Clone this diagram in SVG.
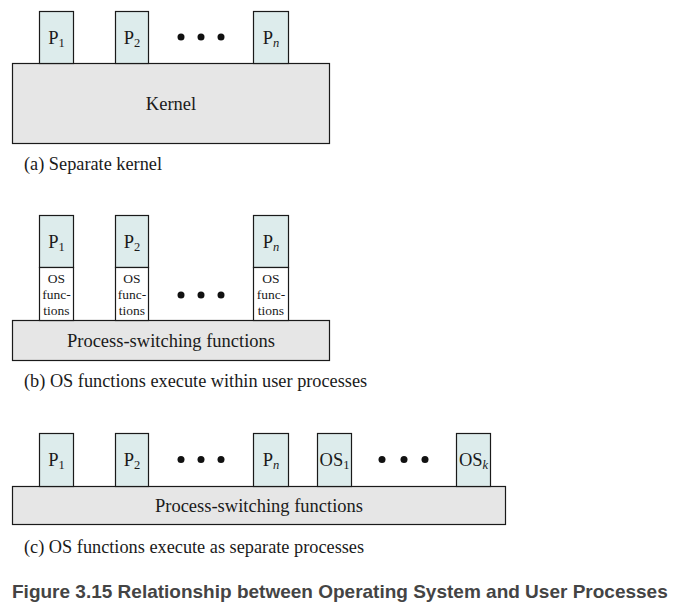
<svg xmlns="http://www.w3.org/2000/svg" width="675" height="614" viewBox="0 0 675 614">
<style>
.p{fill:#ddecec;stroke:#1a1a1a;stroke-width:1.2}
.w{fill:#ffffff;stroke:#1a1a1a;stroke-width:1.2}
.k{fill:#e6e6e6;stroke:#1a1a1a;stroke-width:1.2}
text{font-family:"Liberation Serif","Times New Roman",serif;fill:#1a1a1a}
.l{font-size:18.5px;text-anchor:middle}
.s{font-size:12.5px}
.os{font-size:13.5px;text-anchor:middle}
.c{font-size:18.3px}
.t{font-family:"Liberation Sans",Arial,sans-serif;font-weight:bold;font-size:19px;fill:#444}
.d{fill:#111}
</style>
<rect width="675" height="614" fill="#fff"/>
<!-- (a) -->
<g id="a-kernel"><rect class="k" x="12.5" y="63.5" width="317" height="80"/><text class="l" x="171" y="110">Kernel</text></g>
<g id="a-p1"><rect class="p" x="39.5" y="11.5" width="34" height="52"/><text class="l" x="56.5" y="44">P<tspan class="s" dy="3">1</tspan></text></g>
<g id="a-p2"><rect class="p" x="115.5" y="11.5" width="33" height="52"/><text class="l" x="132" y="44">P<tspan class="s" dy="3">2</tspan></text></g>
<g id="a-pn"><rect class="p" x="253.5" y="11.5" width="35" height="52"/><text class="l" x="271" y="44">P<tspan class="s" dy="3" font-style="italic">n</tspan></text></g>
<g id="a-dots"><circle class="d" cx="181" cy="37" r="3.5"/><circle class="d" cx="201" cy="37" r="3.5"/><circle class="d" cx="221" cy="37" r="3.5"/></g>
<text class="c" x="24" y="170">(a) Separate kernel</text>
<!-- (b) -->
<g id="b-psf"><rect class="k" x="12.5" y="320.5" width="317" height="40"/><text class="l" x="171" y="347">Process-switching functions</text></g>
<g id="b-p1"><rect class="p" x="39.5" y="215.5" width="34" height="52"/><rect class="w" x="39.5" y="267.5" width="34" height="53"/><text class="l" x="56.5" y="248">P<tspan class="s" dy="3">1</tspan></text><text class="os" x="56.5" y="283">OS</text><text class="os" x="56.5" y="299">func-</text><text class="os" x="56.5" y="315">tions</text></g>
<g id="b-p2"><rect class="p" x="115.5" y="215.5" width="33" height="52"/><rect class="w" x="115.5" y="267.5" width="33" height="53"/><text class="l" x="132" y="248">P<tspan class="s" dy="3">2</tspan></text><text class="os" x="132" y="283">OS</text><text class="os" x="132" y="299">func-</text><text class="os" x="132" y="315">tions</text></g>
<g id="b-pn"><rect class="p" x="253.5" y="215.5" width="35" height="52"/><rect class="w" x="253.5" y="267.5" width="35" height="53"/><text class="l" x="271" y="248">P<tspan class="s" dy="3" font-style="italic">n</tspan></text><text class="os" x="271" y="283">OS</text><text class="os" x="271" y="299">func-</text><text class="os" x="271" y="315">tions</text></g>
<g id="b-dots"><circle class="d" cx="181" cy="295" r="3.5"/><circle class="d" cx="201" cy="295" r="3.5"/><circle class="d" cx="221" cy="295" r="3.5"/></g>
<text class="c" x="24" y="387">(b) OS functions execute within user processes</text>
<!-- (c) -->
<g id="c-psf"><rect class="k" x="12.5" y="486.5" width="493" height="38"/><text class="l" x="259" y="512">Process-switching functions</text></g>
<g id="c-p1"><rect class="p" x="39.5" y="433.5" width="34" height="53"/><text class="l" x="56.5" y="466">P<tspan class="s" dy="3">1</tspan></text></g>
<g id="c-p2"><rect class="p" x="115.5" y="433.5" width="33" height="53"/><text class="l" x="132" y="466">P<tspan class="s" dy="3">2</tspan></text></g>
<g id="c-pn"><rect class="p" x="253.5" y="433.5" width="35" height="53"/><text class="l" x="271" y="466">P<tspan class="s" dy="3" font-style="italic">n</tspan></text></g>
<g id="c-os1"><rect class="p" x="317.5" y="433.5" width="34" height="53"/><text class="l" x="334.5" y="466">OS<tspan class="s" dy="3">1</tspan></text></g>
<g id="c-osk"><rect class="p" x="456.5" y="433.5" width="34" height="53"/><text class="l" x="473.5" y="466">OS<tspan class="s" dy="3" font-style="italic">k</tspan></text></g>
<g id="c-dots"><circle class="d" cx="181" cy="459.5" r="3.5"/><circle class="d" cx="201" cy="459.5" r="3.5"/><circle class="d" cx="221" cy="459.5" r="3.5"/><circle class="d" cx="382" cy="459.5" r="3.5"/><circle class="d" cx="404" cy="459.5" r="3.5"/><circle class="d" cx="425" cy="459.5" r="3.5"/></g>
<text class="c" x="24" y="553">(c) OS functions execute as separate processes</text>
<text class="t" x="12" y="598">Figure 3.15 Relationship between Operating System and User Processes</text>
</svg>
